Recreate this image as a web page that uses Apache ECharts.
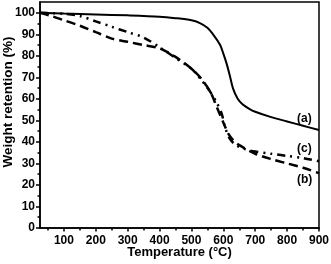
<!DOCTYPE html>
<html>
<head>
<meta charset="utf-8">
<script src="https://cdn.jsdelivr.net/npm/echarts@6/dist/echarts.min.js"></script>
<style>html,body{margin:0;padding:0;background:#fff}#c{width:331px;height:264px}</style>
</head>
<body>
<div id="c"></div>
<script>
const xTicks = [100, 200, 300, 400, 500, 600, 700, 800, 900];
const xMinorTicks = [50, 150, 250, 350, 450, 550, 650, 750, 850];
const yTicks = [0, 10, 20, 30, 40, 50, 60, 70, 80, 90, 100];
const yMinorTicks = [5, 15, 25, 35, 45, 55, 65, 75, 85, 95];

const tempA = [25,100,200,300,400,450,500,525,550,570,590,600,610,620,630,645,660,680,700,750,800,850,900];
const valA  = [100,99.6,99.2,98.8,98.2,97.5,96.5,95.3,93,89.5,85,81,76.5,71,65,60,57.5,55.5,54,51.5,49.5,47.5,45.5];

const tempB = [25,60,100,150,200,250,300,350,400,450,500,530,560,580,600,615,630,650,700,750,800,850,900];
const valB  = [100,98.5,96.5,94,91,88,86.5,85,83.5,79.5,74,69.5,63,56,49,44,41,38.5,34.5,32,30,28,25.5];

const tempC = [25,100,150,200,250,300,350,400,450,500,530,560,580,595,605,620,640,670,700,750,800,850,900];
const valC  = [100,99.5,98.5,96,93.5,91,88.5,84,79,74,69,63,58,53,47,41.5,38.5,36.5,35.5,34.5,33.5,32.5,31];

const seriesLabels = ['(a)', '(b)', '(c)'];

const zip = (xs, ys) => xs.map((x, i) => [x, ys[i]]);
const font = 'Liberation Sans, Arial, sans-serif';
const labelStyle = {color: '#000', fontWeight: 'bold', fontSize: 12, fontFamily: font};

const chart = echarts.init(document.getElementById('c'), null, {renderer: 'canvas'});
chart.setOption({
  animation: false,
  backgroundColor: '#fff',
  grid: {left: 40, right: 12, top: 2, bottom: 36, show: true, borderColor: '#000', borderWidth: 1.5, containLabel: false, outerBoundsMode: 'none'},
  xAxis: [{
    type: 'value', min: 25, max: 900,
    name: 'Temperature (°C)', nameLocation: 'middle', nameGap: 18, nameMoveOverlap: false,
    nameTextStyle: {color: '#000', fontWeight: 'bold', fontSize: 13, fontFamily: font},
    axisLine: {lineStyle: {color: '#000', width: 1.5}},
    axisTick: {customValues: xTicks, length: 3.5, lineStyle: {color: '#000', width: 1.5}},
    axisLabel: Object.assign({customValues: xTicks, margin: 7}, labelStyle),
    splitLine: {show: false}
  }, {
    type: 'value', min: 25, max: 900, position: 'bottom',
    axisLine: {show: false},
    axisTick: {customValues: xMinorTicks, length: 2.5, lineStyle: {color: '#000', width: 1.5}},
    axisLabel: {show: false},
    splitLine: {show: false}
  }],
  yAxis: [{
    type: 'value', min: 0, max: 105,
    name: 'Weight retention (%)', nameLocation: 'middle', nameGap: 25, nameMoveOverlap: false,
    nameTextStyle: {color: '#000', fontWeight: 'bold', fontSize: 13.5, fontFamily: font, padding: [0, 0, 0, 26]},
    axisLine: {lineStyle: {color: '#000', width: 1.5}},
    axisTick: {customValues: yTicks, length: 4, lineStyle: {color: '#000', width: 1.5}},
    axisLabel: Object.assign({customValues: yTicks, margin: 5}, labelStyle),
    splitLine: {show: false}
  }, {
    type: 'value', min: 0, max: 105, position: 'left',
    axisLine: {show: false},
    axisTick: {customValues: yMinorTicks, length: 2.5, lineStyle: {color: '#000', width: 1.5}},
    axisLabel: {show: false},
    splitLine: {show: false}
  }],
  series: [{
    name: seriesLabels[0], type: 'line', data: zip(tempA, valA), smooth: 0.3, showSymbol: false,
    lineStyle: {color: '#000', width: 2, type: 'solid'}
  }, {
    name: seriesLabels[1], type: 'line', data: zip(tempB, valB), smooth: 0.3, showSymbol: false,
    lineStyle: {color: '#000', width: 2.5, type: [9, 5], cap: 'butt'}
  }, {
    name: seriesLabels[2], type: 'line', data: zip(tempC, valC), smooth: 0.3, showSymbol: false,
    lineStyle: {color: '#000', width: 2.5, type: [8, 5, 2, 5, 2, 5], cap: 'butt'}
  }],
  graphic: [
    {type: 'text', left: 297, top: 113, style: {text: seriesLabels[0], fill: '#000', font: 'bold 12px ' + font}},
    {type: 'text', left: 297, top: 174, style: {text: seriesLabels[1], fill: '#000', font: 'bold 12px ' + font}},
    {type: 'text', left: 297, top: 143, style: {text: seriesLabels[2], fill: '#000', font: 'bold 12px ' + font}}
  ]
});
</script>
</body>
</html>
